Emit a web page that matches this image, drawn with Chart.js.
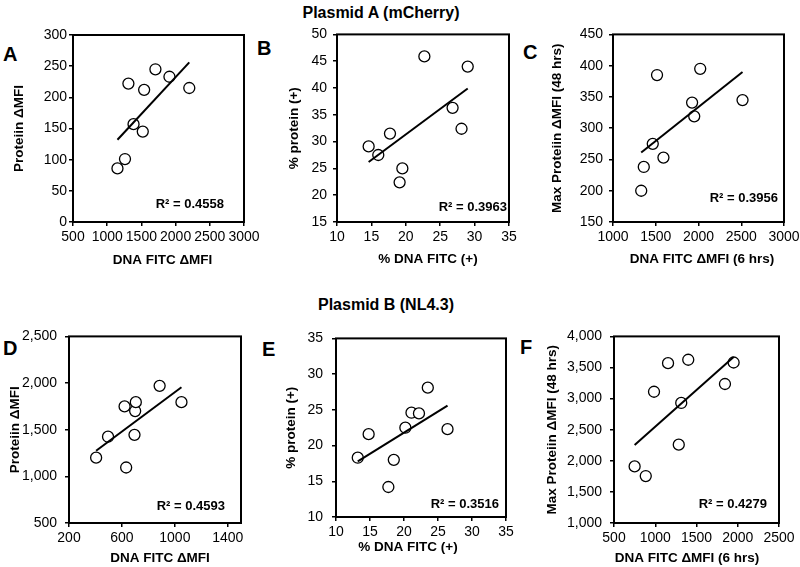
<!DOCTYPE html>
<html>
<head>
<meta charset="utf-8">
<script src="https://cdn.jsdelivr.net/npm/chart.js@4.4.1/dist/chart.umd.min.js"></script>
<style>
  html, body { margin: 0; padding: 0; background: #fff; overflow: hidden; }
  #page { position: relative; width: 800px; height: 567px; font-family: "Liberation Sans", Arial, sans-serif; color: #000; }
  #page canvas { position: absolute; }
  .txt { position: absolute; font-weight: bold; line-height: 1; white-space: nowrap; }
  .title { font-size: 16px; transform: translateX(-50%); }
  .letter { font-size: 20px; }
</style>
</head>
<body>
<div id="page">
  <div class="txt title" style="left:381px; top:5px">Plasmid A (mCherry)</div>
  <div class="txt title" style="left:386px; top:297px">Plasmid B (NL4.3)</div>
  <div class="txt letter" style="left:3px; top:44px">A</div>
  <div class="txt letter" style="left:257px; top:38px">B</div>
  <div class="txt letter" style="left:523px; top:42px">C</div>
  <div class="txt letter" style="left:3px; top:338px">D</div>
  <div class="txt letter" style="left:262px; top:339px">E</div>
  <div class="txt letter" style="left:520px; top:337px">F</div>
</div>
<script>
// --- panel A: Plasmid A, protein vs DNA FITC dMFI
const xA = [1150, 1260, 1310, 1385, 1520, 1540, 1705, 1910, 2200];
const yA = [86, 101, 222, 157, 145, 212, 245, 233, 215];
const trendXA = [1150, 2200];
const trendYA = [132, 256];
const xTicksA = [500, 1000, 1500, 2000, 2500, 3000];
const yTicksA = [0, 50, 100, 150, 200, 250, 300];

// --- panel B: Plasmid A, % protein vs % DNA FITC
const xB = [14.6, 16.0, 17.7, 19.1, 19.5, 22.7, 26.8, 28.1, 29.0];
const yB = [29.1, 27.5, 31.5, 22.4, 25.0, 45.9, 36.3, 32.4, 44.0];
const trendXB = [14.6, 29.0];
const trendYB = [26.2, 39.9];
const xTicksB = [10, 15, 20, 25, 30, 35];
const yTicksB = [15, 20, 25, 30, 35, 40, 45, 50];

// --- panel C: Plasmid A, max protein (48 h) vs DNA FITC (6 h)
const xC = [1330, 1360, 1465, 1515, 1590, 1925, 1950, 2020, 2515];
const yC = [200, 238, 275, 385, 253, 341, 319, 395, 345];
const trendXC = [1330, 2515];
const trendYC = [261, 390];
const xTicksC = [1000, 1500, 2000, 2500, 3000];
const yTicksC = [150, 200, 250, 300, 350, 400, 450];

// --- panel D: Plasmid B, protein vs DNA FITC dMFI
const xD = [405, 495, 620, 632, 695, 700, 705, 885, 1050];
const yD = [1200, 1425, 1750, 1095, 1445, 1700, 1795, 1970, 1795];
const trendXD = [405, 1050];
const trendYD = [1275, 1955];
const xTicksD = [200, 600, 1000, 1400];
const xRangeD = [200, 1500];
const yTicksD = [500, 1000, 1500, 2000, 2500];

// --- panel E: Plasmid B, % protein vs % DNA FITC
const xE = [13.2, 14.8, 17.7, 18.5, 20.2, 21.1, 22.2, 23.5, 26.4];
const yE = [18.3, 21.6, 14.2, 18.0, 22.5, 24.6, 24.5, 28.1, 22.3];
const trendXE = [13.2, 26.4];
const trendYE = [17.8, 25.6];
const xTicksE = [10, 15, 20, 25, 30, 35];
const yTicksE = [10, 15, 20, 25, 30, 35];

// --- panel F: Plasmid B, max protein (48 h) vs DNA FITC (6 h)
const xF = [750, 885, 985, 1155, 1285, 1315, 1400, 1845, 1950];
const yF = [1910, 1755, 3110, 3570, 2260, 2930, 3625, 3235, 3580];
const trendXF = [750, 1950];
const trendYF = [2255, 3670];
const xTicksF = [500, 1000, 1500, 2000, 2500];
const yTicksF = [1000, 1500, 2000, 2500, 3000, 3500, 4000];

const r2Labels = ["R² = 0.4558", "R² = 0.3963", "R² = 0.3956", "R² = 0.4593", "R² = 0.3516", "R² = 0.4279"];

const FONT = '"Liberation Sans", Arial, sans-serif';
const page = document.getElementById("page");

// where each plot box sits on the page: [left, top, right, bottom]
const panels = [
  { x: xA, y: yA, tx: trendXA, ty: trendYA, xTicks: xTicksA, yTicks: yTicksA, r2: r2Labels[0],
    xTitle: "DNA FITC ΔMFI", yTitle: "Proteiin ΔMFI", comma: false, yPad: 2,
    area: [73, 35, 244, 222], yTitleX: 19.5, xTitleAt: [162.5, 260], r2At: [224, 204] },
  { x: xB, y: yB, tx: trendXB, ty: trendYB, xTicks: xTicksB, yTicks: yTicksB, r2: r2Labels[1],
    xTitle: "% DNA FITC (+)", yTitle: "% protein (+)", comma: false, yPad: 6,
    area: [337, 34, 509, 222], yTitleX: 294, xTitleAt: [428, 259], r2At: [507, 207] },
  { x: xC, y: yC, tx: trendXC, ty: trendYC, xTicks: xTicksC, yTicks: yTicksC, r2: r2Labels[2],
    xTitle: "DNA FITC ΔMFI (6 hrs)", yTitle: "Max Proteiin ΔMFI (48 hrs)", comma: false, yPad: 6,
    area: [613, 34, 784, 222], yTitleX: 557.5, xTitleAt: [702, 259], r2At: [778, 198.5] },
  { x: xD, y: yD, tx: trendXD, ty: trendYD, xTicks: xTicksD, xRange: xRangeD, yTicks: yTicksD, r2: r2Labels[3],
    xTitle: "DNA FITC ΔMFI", yTitle: "Proteiin ΔMFI", comma: true, yPad: 8,
    area: [69, 334, 241, 523], yTitleX: 15.3, xTitleAt: [160, 558], r2At: [225, 506.5] },
  { x: xE, y: yE, tx: trendXE, ty: trendYE, xTicks: xTicksE, yTicks: yTicksE, r2: r2Labels[4],
    xTitle: "% DNA FITC (+)", yTitle: "% protein (+)", comma: false, yPad: 9,
    area: [336, 335, 506, 517], yTitleX: 291.3, xTitleAt: [408, 547.5], r2At: [499, 504] },
  { x: xF, y: yF, tx: trendXF, ty: trendYF, xTicks: xTicksF, yTicks: yTicksF, r2: r2Labels[5],
    xTitle: "DNA FITC ΔMFI (6 hrs)", yTitle: "Max Proteiin ΔMFI (48 hrs)", comma: true, yPad: 8,
    area: [614, 334, 779, 523], yTitleX: 552.5, xTitleAt: [687, 558.5], r2At: [767, 504] },
];

const withCommas = v => String(v).replace(/\B(?=(\d{3})+(?!\d))/g, ",");

function makePanel(p) {
  const [l, t, r, b] = p.area;
  const cl = Math.round(p.yTitleX - 12), ct = t - 14;
  const cw = r + 24 - cl, ch = Math.round(p.xTitleAt[1] + 12) - ct;
  const titleLH = 13.5 * 1.2;

  const cv = document.createElement("canvas");
  cv.width = cw; cv.height = ch;
  cv.style.left = cl + "px"; cv.style.top = ct + "px";
  page.appendChild(cv);

  const xRange = p.xRange || [p.xTicks[0], p.xTicks[p.xTicks.length - 1]];
  const tickGrid = { drawOnChartArea: false, drawTicks: true, tickLength: 4, color: "#000", lineWidth: 1.5 };
  const tickFont = { family: FONT, size: 14 };
  const titleFont = { family: FONT, size: 13.5, weight: "bold" };

  new Chart(cv.getContext("2d"), {
    type: "scatter",
    data: {
      datasets: [
        { data: p.tx.map((v, i) => ({ x: v, y: p.ty[i] })), showLine: true, borderColor: "#000",
          borderWidth: 2, pointRadius: 0, fill: false, order: 0 },
        { data: p.x.map((v, i) => ({ x: v, y: p.y[i] })), pointRadius: 5.5, borderWidth: 1.3,
          borderColor: "#000", backgroundColor: "#fff", order: 1 },
      ],
    },
    options: {
      responsive: false,
      animation: false,
      layout: { padding: { left: 0, top: t - ct, right: cw - (r - cl), bottom: 0 } },
      plugins: { legend: { display: false }, tooltip: { enabled: false } },
      scales: {
        x: {
          type: "linear", min: xRange[0], max: xRange[1],
          afterBuildTicks: s => { s.ticks = p.xTicks.map(v => ({ value: v })); },
          afterFit: s => { s.height = ct + ch - b; },
          grid: tickGrid, border: { display: false },
          ticks: { font: tickFont, color: "#000", padding: 3, maxRotation: 0, autoSkip: false,
                   callback: v => String(v) },
          // x title is drawn by the frame plugin so it can sit off-centre like the original
          title: { display: false },
        },
        y: {
          type: "linear", min: p.yTicks[0], max: p.yTicks[p.yTicks.length - 1],
          afterBuildTicks: s => { s.ticks = p.yTicks.map(v => ({ value: v })); },
          afterFit: s => { s.width = l - cl; },
          grid: tickGrid, border: { display: false },
          ticks: { font: tickFont, color: "#000", padding: p.yPad, autoSkip: false,
                   callback: v => p.comma ? withCommas(v) : String(v) },
          title: { display: true, text: p.yTitle, font: titleFont, color: "#000",
                   padding: { top: p.yTitleX - cl - titleLH / 2, bottom: 0 } },
        },
      },
    },
    plugins: [{
      id: "frame",
      afterDraw(chart) {
        const { ctx, chartArea: a } = chart;
        ctx.save();
        ctx.strokeStyle = "#000";
        ctx.lineWidth = 2;
        ctx.strokeRect(a.left, a.top, a.right - a.left, a.bottom - a.top);
        ctx.fillStyle = "#000";
        ctx.textBaseline = "middle";
        ctx.font = "bold 13px " + FONT;
        ctx.textAlign = "right";
        ctx.fillText(p.r2, p.r2At[0] - cl, p.r2At[1] - ct);
        ctx.font = "bold 13.5px " + FONT;
        ctx.textAlign = "center";
        ctx.fillText(p.xTitle, p.xTitleAt[0] - cl, p.xTitleAt[1] - ct);
        ctx.restore();
      },
    }],
  });
}

panels.forEach(makePanel);
</script>
</body>
</html>
